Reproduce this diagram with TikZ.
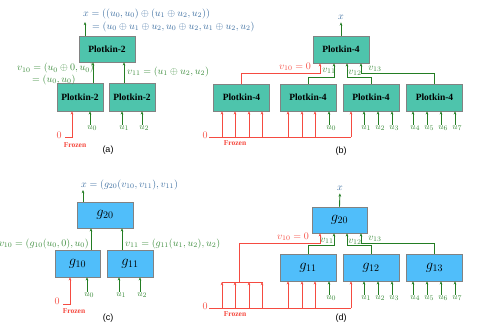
\documentclass[tikz,border=0pt]{standalone}
\usepackage{fontspec}
\setmainfont{Liberation Serif}
\setsansfont{Liberation Sans}
\usetikzlibrary{arrows.meta}
\definecolor{gline}{RGB}{35,125,35}
\definecolor{gtext}{RGB}{60,140,60}
\definecolor{rd}{RGB}{245,75,65}
\definecolor{btext}{RGB}{60,110,160}
\definecolor{tealbox}{RGB}{78,196,172}
\definecolor{skybox}{RGB}{80,190,250}
\definecolor{boxgray}{RGB}{130,130,130}
\tikzset{
  pbox/.style={draw=boxgray, line width=0.5pt, fill=tealbox, minimum width=56pt, minimum height=27pt, inner sep=0pt, font=\bfseries\fontsize{9.5}{10}\selectfont},
  gbox/.style={draw=boxgray, line width=0.5pt, fill=skybox, minimum width=56pt, minimum height=27pt, inner sep=0pt, font=\fontsize{14}{16}\selectfont},
  garr/.style={draw=gline, line width=0.9pt, -{Stealth[length=3.2pt,width=2.6pt]}},
  rarr/.style={draw=rd, line width=0.9pt, -{Stealth[length=3.2pt,width=2.6pt]}},
  rline/.style={draw=rd, line width=0.9pt},
  glab/.style={text=gtext, font=\fontsize{10}{10}\selectfont, inner sep=0pt},
  blab/.style={text=btext, font=\fontsize{10}{10}\selectfont, inner sep=0pt},
  rlab/.style={text=rd, font=\fontsize{10}{10}\selectfont, inner sep=0pt},
  ulab/.style={text=gtext, font=\fontsize{9.5}{10}\selectfont, inner sep=0pt, anchor=north},
  frz/.style={text=rd, font=\bfseries\fontsize{7.5}{8}\selectfont, inner sep=0pt},
  plab/.style={font=\sffamily\fontsize{9}{10}\selectfont, inner sep=0pt}
}
\begin{document}
\begin{tikzpicture}[x=1pt,y=-1pt]
\useasboundingbox (0,0) rectangle (479,328);

% ================= (a) =================
\node[pbox, minimum width=56pt, minimum height=26pt] (a-top) at (107,49) {Plotkin-2};
\node[pbox, minimum width=46pt, minimum height=28pt] (a-l) at (80,97) {Plotkin-2};
\node[pbox, minimum width=46pt, minimum height=28pt] (a-r) at (132,97) {Plotkin-2};
\coordinate (a-o) at (85,22);
\draw[garr] (a-top.north -| a-o) -- (a-o);
\node[blab, anchor=west] (a-x1) at (83,14) {$x=((u_0,u_0)\oplus(u_1\oplus u_2,u_2))$};
\node[blab, anchor=west] (a-x2) at (92,27) {$=(u_0\oplus u_1\oplus u_2,u_0\oplus u_2,u_1\oplus u_2,u_2)$};
\draw[garr] (a-l.north -| 93,0) -- (a-top.south -| 93,0);
\draw[garr] (a-r.north -| 124,0) -- (a-top.south -| 124,0);
\node[glab, anchor=west] (a-v10) at (17,68.5) {$v_{10}=(u_0\oplus 0,u_0)$};
\node[glab, anchor=west] (a-v10b) at (32,80) {$=(u_0,u_0)$};
\node[glab, anchor=west] (a-v11) at (127,72) {$v_{11}=(u_1\oplus u_2,u_2)$};
\node[rlab] (a-zero) at (59,135) {$0$};
\coordinate (a-fz) at (65,137);
\draw[rarr] (a-fz) -| (a-l.south -| 72,0);
\node[frz] (a-frozen) at (75,145) {Frozen};
\foreach \n/\xx/\s/\b in {a-u0/90/0/a-l, a-u1/122/1/a-r, a-u2/142/2/a-r}{
  \node[ulab] (\n) at (\xx,125) {$u\rlap{$_\s$}$};
  \draw[garr] (\n.north) -- (\n.north |- \b.south);
}
\node[plab] (a-cap) at (108,150) {(a)};

% ================= (b) =================
\node[pbox] (b-top) at (341,49.5) {Plotkin-4};
\foreach \n/\xx in {b-1/241.5, b-2/308, b-3/371, b-4/434.5}{
  \node[pbox] (\n) at (\xx,97.5) {Plotkin-4};
}
\node[blab] (b-x) at (341,17) {$x$};
\draw[garr, shorten >=3pt] (b-top.north) -- (b-x.south);
\coordinate (b-j1) at (320,73);
\coordinate (b-j2) at (334,77);
\coordinate (b-j3) at (347,77);
\coordinate (b-j4) at (361,73);
\draw[rarr] (b-1.north) |- (b-j1) -- (b-top.south -| b-j1);
\draw[garr] (b-2.north) |- (b-j2) -- (b-top.south -| b-j2);
\draw[garr] (b-3.north) |- (b-j3) -- (b-top.south -| b-j3);
\draw[garr] (b-4.north) |- (b-j4) -- (b-top.south -| b-j4);
\node[rlab] (b-v10) at (295,67) {$v_{10}=0$};
\node[glab] (b-v11) at (329,71) {$v_{11}$};
\node[glab] (b-v12) at (355,73) {$v_{12}$};
\node[glab] (b-v13) at (375,69) {$v_{13}$};
\node[rlab] (b-zero) at (205,135) {$0$};
\coordinate (b-fz) at (209,137);
\coordinate (b-fe) at (351,137);
\draw[rline] (b-fz) -- (b-fe);
\foreach \xx/\b in {222/b-1, 235/b-1, 249/b-1, 262/b-1, 288/b-2, 302/b-2, 315/b-2, 351/b-3}{
  \draw[rarr] (b-fz -| \xx,0) -- (\b.south -| \xx,0);
}
\node[frz] (b-frozen) at (235,143) {Frozen};
\foreach \n/\xx/\s/\b in {b-u0/329/0/b-2, b-u1/364/1/b-3, b-u2/378/2/b-3, b-u3/392/3/b-3, b-u4/413/4/b-4, b-u5/427/5/b-4, b-u6/441/6/b-4, b-u7/455/7/b-4}{
  \node[ulab] (\n) at (\xx,125) {$u\rlap{$_\s$}$};
  \draw[garr] (\n.north) -- (\n.north |- \b.south);
}
\node[plab] (b-cap) at (341,151) {(b)};

% ================= (c) =================
\node[gbox, minimum width=56pt, minimum height=26pt] (c-top) at (105,215) {$g_{20}$};
\node[gbox, minimum width=45pt, minimum height=27pt] (c-l) at (77.5,263.5) {$g_{10}$};
\node[gbox, minimum width=46pt, minimum height=27pt] (c-r) at (130,263.5) {$g_{11}$};
\coordinate (c-o) at (83,190);
\draw[garr] (c-top.north -| c-o) -- (c-o);
\node[blab, anchor=west] (c-x) at (81,185) {$x=(g_{20}(v_{10},v_{11}),v_{11})$};
\draw[garr] (c-l.north -| 91,0) -- (c-top.south -| 91,0);
\draw[garr] (c-r.north -| 122,0) -- (c-top.south -| 122,0);
\node[glab, anchor=east] (c-v10) at (89,244) {$v_{10}=(g_{10}(u_0,0),u_0)$};
\node[glab, anchor=west] (c-v11) at (125,244) {$v_{11}=(g_{11}(u_1,u_2),u_2)$};
\node[rlab] (c-zero) at (57,301) {$0$};
\coordinate (c-fz) at (63,304);
\draw[rarr] (c-fz) -| (c-l.south -| 70,0);
\node[frz] (c-frozen) at (74,311) {Frozen};
\foreach \n/\xx/\s/\b in {c-u0/87/0/c-l, c-u1/119/1/c-r, c-u2/140/2/c-r}{
  \node[ulab] (\n) at (\xx,292) {$u\rlap{$_\s$}$};
  \draw[garr] (\n.north) -- (\n.north |- \b.south);
}
\node[plab] (c-cap) at (108,318) {(c)};

% ================= (d) =================
\node[gbox, minimum width=55pt, minimum height=26pt] (d-top) at (339.5,220) {$g_{20}$};
\foreach \n/\xx/\s in {d-1/308/11, d-2/371/12, d-3/434.5/13}{
  \node[gbox] (\n) at (\xx,267.5) {$g_{\s}$};
}
\node[blab] (d-x) at (340,188) {$x$};
\draw[garr, shorten >=3pt] (d-top.north) -- (d-x.south);
\coordinate (d-bar1) at (221.5,282);
\coordinate (d-bar2) at (262.5,282);
\draw[rline] (d-bar1) -- (d-bar2);
\coordinate (d-j1) at (320,243);
\coordinate (d-j2) at (334,245);
\coordinate (d-j3) at (347,245);
\coordinate (d-j4) at (361,243);
\draw[rarr] (d-bar1 -| 239,0) |- (d-j1) -- (d-top.south -| d-j1);
\draw[garr] (d-1.north) |- (d-j2) -- (d-top.south -| d-j2);
\draw[garr] (d-2.north) |- (d-j3) -- (d-top.south -| d-j3);
\draw[garr] (d-3.north) |- (d-j4) -- (d-top.south -| d-j4);
\node[rlab] (d-v10) at (293,237) {$v_{10}=0$};
\node[glab] (d-v11) at (327,241) {$v_{11}$};
\node[glab] (d-v12) at (355,242) {$v_{12}$};
\node[glab] (d-v13) at (375,239) {$v_{13}$};
\node[rlab] (d-zero) at (205,306) {$0$};
\coordinate (d-fz) at (209,308);
\coordinate (d-fe) at (351,308);
\draw[rline] (d-fz) -- (d-fe);
\foreach \xx in {222,235,249,262}{
  \draw[rarr] (d-fz -| \xx,0) -- (d-bar1 -| \xx,0);
}
\foreach \xx/\b in {288/d-1, 302/d-1, 315/d-1, 351/d-2}{
  \draw[rarr] (d-fz -| \xx,0) -- (\b.south -| \xx,0);
}
\node[frz] (d-frozen) at (235,314) {Frozen};
\foreach \n/\xx/\s/\b in {d-u0/329/0/d-1, d-u1/364/1/d-2, d-u2/378/2/d-2, d-u3/392/3/d-2, d-u4/413/4/d-3, d-u5/427/5/d-3, d-u6/441/6/d-3, d-u7/455/7/d-3}{
  \node[ulab] (\n) at (\xx,295) {$u\rlap{$_\s$}$};
  \draw[garr] (\n.north) -- (\n.north |- \b.south);
}
\node[plab] (d-cap) at (341,318) {(d)};
\end{tikzpicture}
\end{document}
